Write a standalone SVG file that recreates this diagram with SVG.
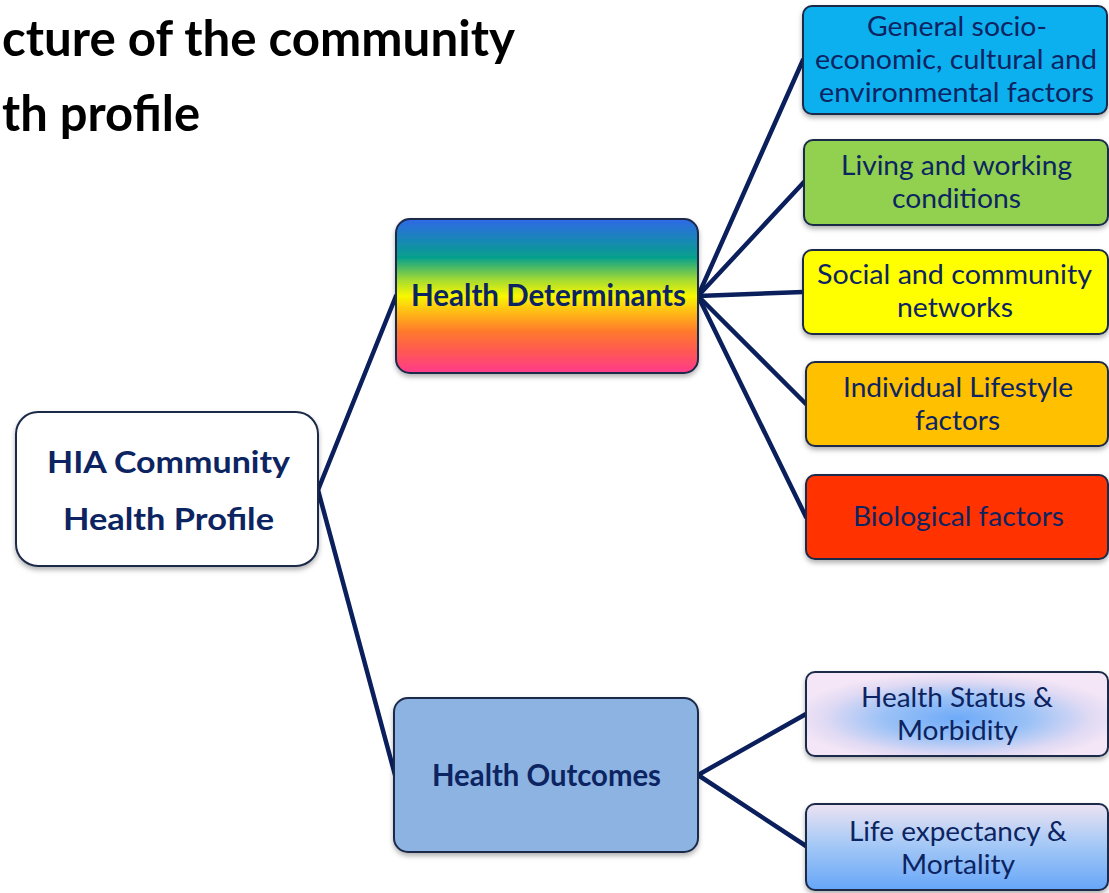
<svg xmlns="http://www.w3.org/2000/svg" width="1109" height="893" viewBox="0 0 1109 893">
<defs>
<style>
.box{stroke:#1c2a4a;stroke-width:2}
.t{font-family:Lato,"Liberation Sans",sans-serif;fill:#0c2461;text-anchor:middle}
.b{font-weight:bold;font-size:31px}
.c{font-size:27px}
.conn line{stroke:#0a1f5c;stroke-width:4.5;stroke-linecap:round}
.title{font-family:Lato,"Liberation Sans",sans-serif;font-weight:bold;font-size:49px;fill:#000}
</style>
<filter id="sh" x="-10%" y="-10%" width="120%" height="130%">
<feDropShadow dx="0" dy="3" stdDeviation="2.5" flood-color="#000" flood-opacity="0.3"/>
</filter>
<linearGradient id="rainbow" x1="0" y1="0" x2="0" y2="1">
<stop offset="0" stop-color="#3068e8"/>
<stop offset="0.25" stop-color="#05a08c"/>
<stop offset="0.4" stop-color="#a8dc30"/>
<stop offset="0.5" stop-color="#f8f800"/>
<stop offset="0.6" stop-color="#ffbe14"/>
<stop offset="0.73" stop-color="#ff7a2c"/>
<stop offset="0.85" stop-color="#ff5a50"/>
<stop offset="1" stop-color="#ff3a8c"/>
</linearGradient>
<radialGradient id="status" cx="0.5" cy="0.55" r="0.55">
<stop offset="0" stop-color="#6eaaf8"/>
<stop offset="0.45" stop-color="#9cc2f6"/>
<stop offset="0.8" stop-color="#e0daf4"/>
<stop offset="1" stop-color="#f4e6f6"/>
</radialGradient>
<linearGradient id="life" x1="0" y1="0" x2="0" y2="1">
<stop offset="0" stop-color="#ece2f2"/>
<stop offset="0.45" stop-color="#a8caf6"/>
<stop offset="1" stop-color="#66a6f8"/>
</linearGradient>
</defs>
<rect width="1109" height="893" fill="#fff"/>
<g id="title">
<text class="title" x="2" y="56" textLength="513" lengthAdjust="spacingAndGlyphs">cture of the community</text>
<text class="title" x="2" y="131" textLength="198" lengthAdjust="spacingAndGlyphs">th profile</text>
</g>
<g id="connectors" class="conn">
<line x1="318" y1="490" x2="396" y2="296"/>
<line x1="318" y1="490" x2="395" y2="775"/>
<line x1="698" y1="296" x2="803" y2="60"/>
<line x1="698" y1="296" x2="804" y2="182"/>
<line x1="698" y1="296" x2="803" y2="292"/>
<line x1="698" y1="296" x2="806" y2="404"/>
<line x1="698" y1="296" x2="806" y2="517"/>
<line x1="698" y1="775" x2="806" y2="714"/>
<line x1="698" y1="775" x2="806" y2="846"/>
</g>
<g id="hia">
<rect class="box" x="16" y="412" width="302" height="154" rx="22" fill="#fff" filter="url(#sh)"/>
<text class="t b" x="168.5" y="473" textLength="243" lengthAdjust="spacingAndGlyphs">HIA Community</text>
<text class="t b" x="168.5" y="530" textLength="211" lengthAdjust="spacingAndGlyphs">Health Profile</text>
</g>
<g id="determinants">
<rect class="box" x="396" y="219" width="302" height="154" rx="14" fill="url(#rainbow)" filter="url(#sh)"/>
<text class="t b" x="548.5" y="306" textLength="275" lengthAdjust="spacingAndGlyphs">Health Determinants</text>
</g>
<g id="outcomes">
<rect class="box" x="394" y="698" width="304" height="154" rx="14" fill="#8db3e2" filter="url(#sh)"/>
<text class="t b" x="546.5" y="786" textLength="229" lengthAdjust="spacingAndGlyphs">Health Outcomes</text>
</g>
<g id="general">
<rect class="box" x="803" y="6" width="304" height="108" rx="9" fill="#10b0ef" filter="url(#sh)"/>
<text class="t c" x="957" y="36" textLength="180" lengthAdjust="spacingAndGlyphs">General socio-</text>
<text class="t c" x="956" y="69" textLength="282" lengthAdjust="spacingAndGlyphs">economic, cultural and</text>
<text class="t c" x="956.5" y="102" textLength="275" lengthAdjust="spacingAndGlyphs">environmental factors</text>
</g>
<g id="living">
<rect class="box" x="804" y="140" width="304" height="85" rx="9" fill="#92d050" filter="url(#sh)"/>
<text class="t c" x="956.5" y="175" textLength="231" lengthAdjust="spacingAndGlyphs">Living and working</text>
<text class="t c" x="956.5" y="208" textLength="129" lengthAdjust="spacingAndGlyphs">conditions</text>
</g>
<g id="social">
<rect class="box" x="803" y="250" width="305" height="84" rx="9" fill="#ffff00" filter="url(#sh)"/>
<text class="t c" x="954.5" y="284" textLength="275" lengthAdjust="spacingAndGlyphs">Social and community</text>
<text class="t c" x="955" y="317" textLength="116" lengthAdjust="spacingAndGlyphs">networks</text>
</g>
<g id="individual">
<rect class="box" x="806" y="362" width="302" height="84" rx="9" fill="#ffc000" filter="url(#sh)"/>
<text class="t c" x="958" y="397" textLength="230" lengthAdjust="spacingAndGlyphs">Individual Lifestyle</text>
<text class="t c" x="957.5" y="430" textLength="85" lengthAdjust="spacingAndGlyphs">factors</text>
</g>
<g id="biological">
<rect class="box" x="806" y="475" width="302" height="84" rx="9" fill="#ff3300" filter="url(#sh)"/>
<text class="t c" x="958.5" y="526" textLength="211" lengthAdjust="spacingAndGlyphs">Biological factors</text>
</g>
<g id="status-node">
<rect class="box" x="806" y="672" width="302" height="84" rx="9" fill="url(#status)" filter="url(#sh)"/>
<text class="t c" x="957" y="707" textLength="192" lengthAdjust="spacingAndGlyphs">Health Status &amp;</text>
<text class="t c" x="957.5" y="740" textLength="121" lengthAdjust="spacingAndGlyphs">Morbidity</text>
</g>
<g id="life-node">
<rect class="box" x="806" y="804" width="302" height="86" rx="9" fill="url(#life)" filter="url(#sh)"/>
<text class="t c" x="958" y="841" textLength="218" lengthAdjust="spacingAndGlyphs">Life expectancy &amp;</text>
<text class="t c" x="958" y="874" textLength="114" lengthAdjust="spacingAndGlyphs">Mortality</text>
</g>
</svg>
